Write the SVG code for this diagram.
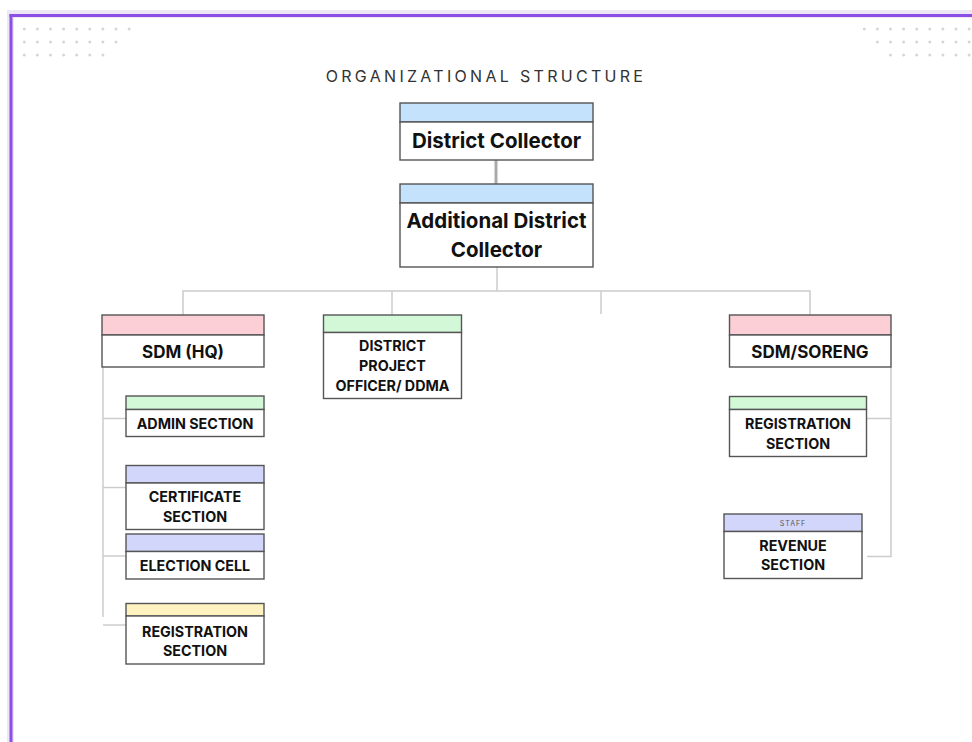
<svg xmlns="http://www.w3.org/2000/svg" width="972" height="742" viewBox="0 0 972 742">
<style>
.frame-bg{fill:#ebe7f4}
.box{fill:#ffffff;stroke:#555555;stroke-width:1.4}
.hb{fill:#c4e2fb}.hp{fill:#fccfd6}.hg{fill:#d3f8d8}.hl{fill:#d3d6fb}.hy{fill:#fdf2c0}
.t{font-family:Inter,"Liberation Sans",sans-serif;font-weight:700;fill:#111111;text-anchor:middle}
.big{font-size:20.5px}
.mid{font-size:17px}
.sm{font-size:14.3px}
.title{font-family:Inter,"Liberation Sans",sans-serif;font-size:16px;letter-spacing:3.3px;fill:#333333;text-anchor:middle}
.staff{font-family:Inter,"Liberation Sans",sans-serif;font-size:7px;letter-spacing:1px;fill:#555555;text-anchor:middle}
.c{fill:none;stroke:#cccccc;stroke-width:1.5}
</style>
<rect x="0" y="0" width="972" height="742" fill="#ffffff"/>
<rect class="frame-bg" x="7" y="10" width="970" height="740"/>
<rect x="14" y="18" width="970" height="740" fill="#ffffff"/>
<line x1="11" y1="14" x2="11" y2="742" stroke="#8b4fe8" stroke-width="3"/>
<line x1="9.5" y1="15.5" x2="972" y2="15.5" stroke="#8b4fe8" stroke-width="3"/>
<g id="dots-tl" fill="#d6d6d6">
<circle cx="24.3" cy="29" r="1.5"/><circle cx="37.4" cy="29" r="1.5"/><circle cx="50.5" cy="29" r="1.5"/><circle cx="63.6" cy="29" r="1.5"/><circle cx="76.7" cy="29" r="1.5"/><circle cx="89.8" cy="29" r="1.5"/><circle cx="102.9" cy="29" r="1.5"/><circle cx="116" cy="29" r="1.5"/><circle cx="129.1" cy="29" r="1.5"/>
<circle cx="24.3" cy="42" r="1.5"/><circle cx="37.4" cy="42" r="1.5"/><circle cx="50.5" cy="42" r="1.5"/><circle cx="63.6" cy="42" r="1.5"/><circle cx="76.7" cy="42" r="1.5"/><circle cx="89.8" cy="42" r="1.5"/><circle cx="102.9" cy="42" r="1.5"/><circle cx="116" cy="42" r="1.5"/>
<circle cx="24.3" cy="55" r="1.5"/><circle cx="37.4" cy="55" r="1.5"/><circle cx="50.5" cy="55" r="1.5"/><circle cx="63.6" cy="55" r="1.5"/><circle cx="76.7" cy="55" r="1.5"/><circle cx="89.8" cy="55" r="1.5"/><circle cx="102.9" cy="55" r="1.5"/>
</g>
<g id="dots-tr" fill="#d6d6d6">
<circle cx="864.3" cy="29" r="1.5"/><circle cx="877.4" cy="29" r="1.5"/><circle cx="890.5" cy="29" r="1.5"/><circle cx="903.6" cy="29" r="1.5"/><circle cx="916.7" cy="29" r="1.5"/><circle cx="929.8" cy="29" r="1.5"/><circle cx="942.9" cy="29" r="1.5"/><circle cx="956" cy="29" r="1.5"/><circle cx="969.1" cy="29" r="1.5"/>
<circle cx="877.4" cy="42" r="1.5"/><circle cx="890.5" cy="42" r="1.5"/><circle cx="903.6" cy="42" r="1.5"/><circle cx="916.7" cy="42" r="1.5"/><circle cx="929.8" cy="42" r="1.5"/><circle cx="942.9" cy="42" r="1.5"/><circle cx="956" cy="42" r="1.5"/><circle cx="969.1" cy="42" r="1.5"/>
<circle cx="890.5" cy="55" r="1.5"/><circle cx="903.6" cy="55" r="1.5"/><circle cx="916.7" cy="55" r="1.5"/><circle cx="929.8" cy="55" r="1.5"/><circle cx="942.9" cy="55" r="1.5"/><circle cx="956" cy="55" r="1.5"/><circle cx="969.1" cy="55" r="1.5"/>
</g>
<text class="title" x="486" y="82">ORGANIZATIONAL STRUCTURE</text>
<g id="connectors">
<line x1="496" y1="160" x2="496" y2="184" stroke="#aaaaaa" stroke-width="3"/>
<polyline class="c" points="497,267 497,291"/>
<polyline class="c" points="183,315 183,291 810,291 810,315"/>
<line class="c" x1="392" y1="291" x2="392" y2="315"/>
<line class="c" x1="601" y1="291" x2="601" y2="314"/>
<polyline class="c" points="103,367 103,617"/>
<line class="c" x1="103" y1="418.5" x2="126" y2="418.5"/>
<line class="c" x1="103" y1="487.5" x2="126" y2="487.5"/>
<line class="c" x1="103" y1="556" x2="126" y2="556"/>
<line class="c" x1="103" y1="625" x2="126" y2="625"/>
<polyline class="c" points="891,367 891,556.5 867,556.5"/>
<line class="c" x1="867" y1="418.5" x2="891" y2="418.5"/>
</g>
<g id="district-collector">
<rect class="box hb" x="400" y="103" width="193" height="19"/>
<rect class="box" x="400" y="122" width="193" height="38"/>
<text class="t big" x="496.5" y="148">District Collector</text>
</g>
<g id="additional-district-collector">
<rect class="box hb" x="400" y="184" width="193" height="19"/>
<rect class="box" x="400" y="203" width="193" height="64"/>
<text class="t big" x="496.5" y="228">Additional District</text>
<text class="t big" x="496.5" y="256.5">Collector</text>
</g>
<g id="sdm-hq">
<rect class="box hp" x="102" y="315" width="162" height="20"/>
<rect class="box" x="102" y="335" width="162" height="32"/>
<text class="t mid" x="183" y="358">SDM (HQ)</text>
</g>
<g id="dpo-ddma">
<rect class="box hg" x="323.5" y="315" width="138" height="17.5"/>
<rect class="box" x="323.5" y="332.5" width="138" height="66"/>
<text class="t sm" x="392.5" y="351">DISTRICT</text>
<text class="t sm" x="392.5" y="371">PROJECT</text>
<text class="t sm" x="392.5" y="390.5">OFFICER/ DDMA</text>
</g>
<g id="sdm-soreng">
<rect class="box hp" x="729.5" y="315" width="161.5" height="20"/>
<rect class="box" x="729.5" y="335" width="161.5" height="32"/>
<text class="t mid" x="810" y="357.5">SDM/SORENG</text>
</g>
<g id="admin-section">
<rect class="box hg" x="126" y="396" width="138" height="13.5"/>
<rect class="box" x="126" y="409.5" width="138" height="27"/>
<text class="t sm" x="195" y="428.5">ADMIN SECTION</text>
</g>
<g id="certificate-section">
<rect class="box hl" x="126" y="465.5" width="138" height="17.5"/>
<rect class="box" x="126" y="483" width="138" height="46.5"/>
<text class="t sm" x="195" y="501.5">CERTIFICATE</text>
<text class="t sm" x="195" y="521.5">SECTION</text>
</g>
<g id="election-cell">
<rect class="box hl" x="126" y="534" width="138" height="17.5"/>
<rect class="box" x="126" y="551.5" width="138" height="27.5"/>
<text class="t sm" x="195" y="570.5">ELECTION CELL</text>
</g>
<g id="registration-section-hq">
<rect class="box hy" x="126" y="603.5" width="138" height="12.5"/>
<rect class="box" x="126" y="616" width="138" height="48"/>
<text class="t sm" x="195" y="636.5">REGISTRATION</text>
<text class="t sm" x="195" y="656">SECTION</text>
</g>
<g id="registration-section-soreng">
<rect class="box hg" x="729.5" y="396.5" width="137" height="13"/>
<rect class="box" x="729.5" y="409.5" width="137" height="47"/>
<text class="t sm" x="798" y="428.5">REGISTRATION</text>
<text class="t sm" x="798" y="449">SECTION</text>
</g>
<g id="revenue-section">
<rect class="box hl" x="724" y="514" width="138" height="17.5"/>
<rect class="box" x="724" y="531.5" width="138" height="47"/>
<text class="staff" x="793" y="525.5">STAFF</text>
<text class="t sm" x="793" y="550.5">REVENUE</text>
<text class="t sm" x="793" y="570">SECTION</text>
</g>
</svg>
